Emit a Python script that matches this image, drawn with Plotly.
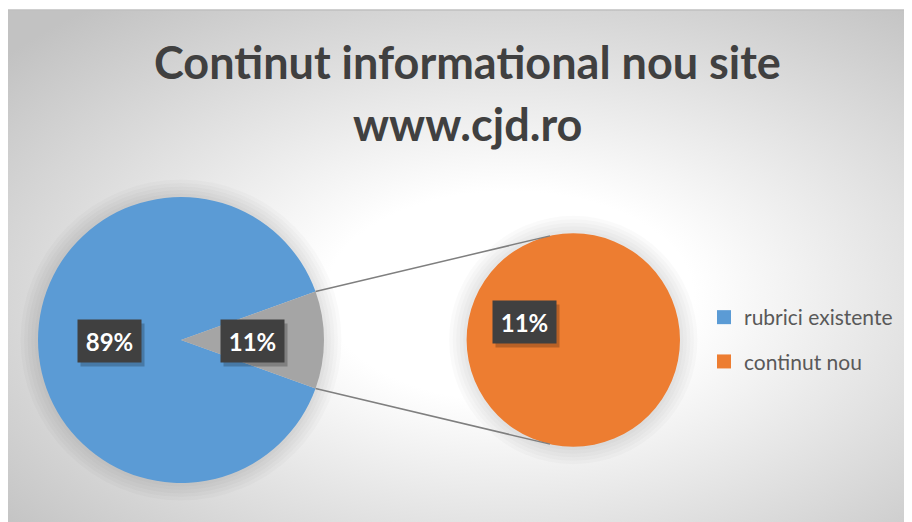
import base64
import math
import plotly.graph_objects as go

# ---------------- data ----------------
title_lines = ["Continut informational nou site", "www.cjd.ro"]
categories = ["rubrici existente", "continut nou"]
values = [89, 11]
colors = ["#5B9BD5", "#ED7D31"]
other_color = "#A5A5A5"

W, H = 912, 522
OFF = 8  # page body margin: figure origin sits at page pixel (8, 8)

total = sum(values)
shares = [v / total for v in values]
pct_text = [f"{round(s * 100)}%" for s in shares]


def px(x):
    return (x - OFF) / W


def py(y):
    return 1 - (y - OFF) / H


# ---------------- geometry (page pixels) ----------------
L_CX, L_CY, L_R = 181, 340, 143
R_CX, R_CY, R_R = 573.3, 340, 106.7

other_share = shares[1]
half_angle = other_share * 360 / 2  # degrees, gray wedge centred at 3 o'clock

fig = go.Figure()

# primary pie: main category + broken-out wedge
fig.add_trace(go.Pie(
    labels=[categories[0], "Other"],
    values=[values[0], values[1]],
    marker=dict(colors=[colors[0], other_color], line=dict(width=0)),
    sort=False,
    direction="clockwise",
    rotation=90 + half_angle,
    textinfo="none",
    hoverinfo="label+percent",
    showlegend=False,
    domain=dict(x=[px(L_CX - L_R), px(L_CX + L_R)],
                y=[py(L_CY + L_R), py(L_CY - L_R)]),
))

# secondary pie: the broken-out category
fig.add_trace(go.Pie(
    labels=[categories[1]],
    values=[values[1]],
    marker=dict(colors=[colors[1]], line=dict(width=0)),
    sort=False,
    textinfo="none",
    hoverinfo="label",
    showlegend=False,
    domain=dict(x=[px(R_CX - R_R), px(R_CX + R_R)],
                y=[py(R_CY + R_R), py(R_CY - R_R)]),
))

# legend entries
for i, (name, col) in enumerate(zip(categories, colors)):
    fig.add_trace(go.Scatter(
        x=[None], y=[None], mode="markers", name=name,
        legendgroup=f"g{i}",
        marker=dict(symbol="square", size=14, color=col),
    ))

shapes = []

# soft halo around the pies (Excel soft-edge shadow)
for cx, cy, r in ((L_CX, L_CY, L_R), (R_CX, R_CY, R_R)):
    for k in range(1, 6):
        e = 3.5 * k
        shapes.append(dict(type="circle", xref="paper", yref="paper",
                           x0=px(cx - r - e), x1=px(cx + r + e),
                           y0=py(cy + r + e), y1=py(cy - r - e),
                           fillcolor="rgba(0,0,0,0.018)",
                           line=dict(width=0), layer="below"))

# ---------------- connector lines ----------------
a = math.radians(half_angle)
conn_end_angle = math.radians(12.6)
for sgn in (-1, 1):
    x0 = L_CX + L_R * math.cos(a)
    y0 = L_CY + sgn * L_R * math.sin(a)
    x1 = R_CX - R_R * math.sin(conn_end_angle)
    y1 = R_CY + sgn * R_R * math.cos(conn_end_angle)
    shapes.append(dict(type="line", xref="paper", yref="paper",
                       x0=px(x0), y0=py(y0), x1=px(x1), y1=py(y1),
                       line=dict(color="#7F7F7F", width=1.5)))

# chart-area border (top)
shapes.append(dict(type="line", xref="paper", yref="paper",
                   x0=px(8), y0=py(10), x1=1, y1=py(10),
                   line=dict(color="#BFBFBF", width=1.5), layer="below"))

# ---------------- background gradient ----------------
svg = (
    '<svg xmlns="http://www.w3.org/2000/svg" width="904" height="512" '
    'preserveAspectRatio="none" viewBox="0 0 904 512">'
    '<defs><radialGradient id="g" cx="0.55" cy="0.55" r="0.72" '
    'gradientUnits="objectBoundingBox">'
    '<stop offset="0" stop-color="#FFFFFF"/>'
    '<stop offset="0.28" stop-color="#FFFFFF"/>'
    '<stop offset="1" stop-color="#C2C2C2"/>'
    '</radialGradient></defs>'
    '<rect x="0" y="0" width="904" height="512" fill="url(#g)"/></svg>'
)
src = "data:image/svg+xml;base64," + base64.b64encode(svg.encode()).decode()

images = [dict(source=src, xref="paper", yref="paper",
               x=px(8), y=py(10), sizex=1 - px(8), sizey=py(10),
               xanchor="left", yanchor="top", sizing="stretch",
               layer="below")]

# ---------------- annotations ----------------
annotations = []
for txt, ty in zip(title_lines, (62, 124)):
    annotations.append(dict(text=f"<b>{txt}</b>", x=px(467), y=py(ty),
                            xref="paper", yref="paper", showarrow=False,
                            font=dict(family="Lato", size=45, color="#404040"),
                            xanchor="center", yanchor="middle"))

# data labels
label_pos = [
    (L_CX - 0.5 * L_R, L_CY + 1, pct_text[0]),
    (L_CX + 0.5 * L_R, L_CY + 1, pct_text[1]),
    (R_CX - 0.46 * R_R, R_CY - 0.17 * R_R, pct_text[1]),
]
for (lx, ly, t) in label_pos:
    annotations.append(dict(text="", x=px(lx + 3), y=py(ly + 4),
                            xref="paper", yref="paper", showarrow=False,
                            width=63, height=42, borderpad=0,
                            bgcolor="rgba(0,0,0,0.22)",
                            xanchor="center", yanchor="middle"))
    annotations.append(dict(text=f"<b>{t}</b>", x=px(lx), y=py(ly),
                            xref="paper", yref="paper", showarrow=False,
                            width=63, height=42, borderpad=0,
                            bgcolor="#404040",
                            font=dict(family="Lato", size=24, color="#FFFFFF"),
                            xanchor="center", yanchor="middle"))

fig.update_layout(
    width=W, height=H,
    margin=dict(l=0, r=0, t=0, b=0),
    paper_bgcolor="#FFFFFF",
    plot_bgcolor="rgba(0,0,0,0)",
    xaxis=dict(visible=False),
    yaxis=dict(visible=False),
    shapes=shapes,
    images=images,
    annotations=annotations,
    showlegend=True,
    legend=dict(x=px(704), y=py(297), xanchor="left", yanchor="top",
                bgcolor="rgba(0,0,0,0)",
                font=dict(family="Lato", size=21, color="#595959"),
                traceorder="grouped", tracegroupgap=14,
                itemclick=False, itemdoubleclick=False),
)

fig.write_html("out.html")
